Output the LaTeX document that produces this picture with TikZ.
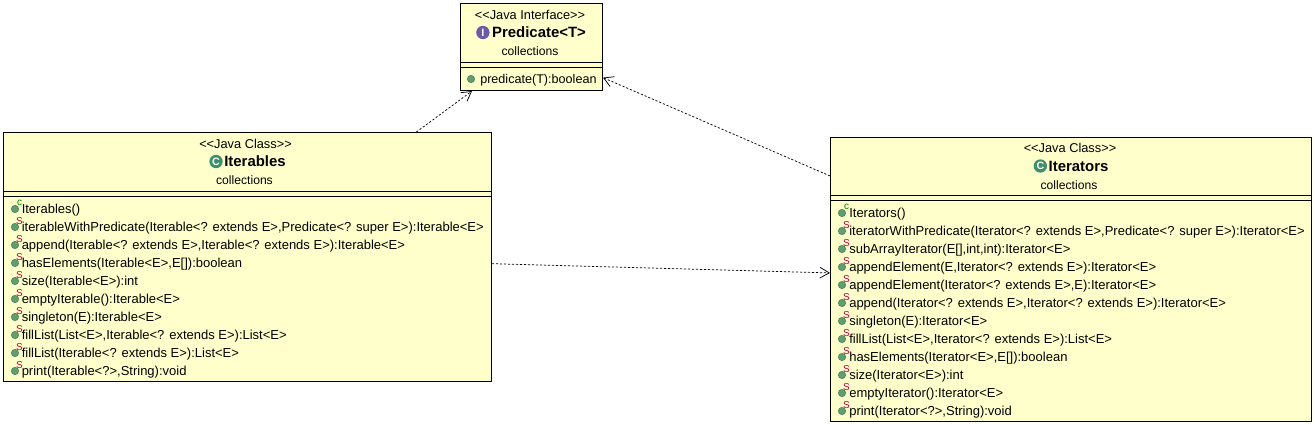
\documentclass[tikz,border=0pt]{standalone}
\usepackage{fontspec}
\setmainfont{Liberation Sans}
\usepackage{xcolor}
\usetikzlibrary{arrows.meta,positioning}
\definecolor{notefill}{HTML}{FFFFCC}
\definecolor{pubgreen}{HTML}{5F9E6E}
\definecolor{classgreen}{HTML}{3F8F68}
\definecolor{ifacepurple}{HTML}{6A5AA8}
\definecolor{modred}{HTML}{C00040}
\tikzstyle{classbox} = [rectangle, draw=black, fill=notefill, line width=0.75pt, inner sep=0pt]
\tikzstyle{stereo} = [font=\fontsize{9.6}{10}\selectfont, inner sep=0pt]
\tikzstyle{package} = [font=\fontsize{9.1}{10}\selectfont, inner sep=0pt]
\tikzstyle{classname} = [font=\fontsize{11.2}{12}\selectfont\bfseries, inner sep=0pt]
\tikzstyle{member} = [font=\fontsize{9.75}{10}\selectfont, inner sep=0pt, anchor=base west]
\tikzstyle{bullet} = [circle, fill=pubgreen, draw=pubgreen!70!black, line width=0.3pt, minimum size=5.6pt, inner sep=0pt]
\tikzstyle{modifier} = [font=\fontsize{7.5}{8}\selectfont, inner sep=0pt]
\tikzstyle{badge} = [circle, text=white, font=\fontsize{8}{8}\selectfont\bfseries, minimum size=10pt, inner sep=0pt]
\tikzstyle{line} = [draw, line width=0.55pt, dash pattern=on 1.6pt off 1.4pt, -{Straight Barb[length=7pt,width=8pt]}]

\begin{document}
\begin{tikzpicture}[x=0.75pt,y=-0.75pt]
  \useasboundingbox (0,0) rectangle (1315,425);

  \node [classbox, minimum width=106.5pt, minimum height=65.25pt] (predicate) at (531.5,47) {};
  \node [classbox, minimum width=366pt, minimum height=186.75pt] (iterables) at (247.5,257) {};
  \node [classbox, minimum width=360.75pt, minimum height=213pt] (iterators) at (1071,279.5) {};

  % compartments
  \draw [line width=0.75pt] (predicate.west |- 0,62.5) -- (predicate.east |- 0,62.5);
  \draw [line width=0.75pt] (predicate.west |- 0,67.5) -- (predicate.east |- 0,67.5);
  \draw [line width=0.75pt] (iterables.west |- 0,191.5) -- (iterables.east |- 0,191.5);
  \draw [line width=0.75pt] (iterables.west |- 0,196.5) -- (iterables.east |- 0,196.5);
  \draw [line width=0.75pt] (iterators.west |- 0,195.5) -- (iterators.east |- 0,195.5);
  \draw [line width=0.75pt] (iterators.west |- 0,200.5) -- (iterators.east |- 0,200.5);

  % headers
  \node [stereo] (predicate-kind) at (530,15) {<{}<Java Interface>{}>};
  \node [classname] (predicate-name) at (539,32.5) {Predicate<T>};
  \node [badge, fill=ifacepurple, left=1.5pt of predicate-name] (predicate-badge) {I};
  \node [package] (predicate-pkg) at (530,51.5) {collections};

  \node [stereo] (iterables-kind) at (245.5,143.5) {<{}<Java Class>{}>};
  \node [classname] (iterables-name) at (255,161.5) {Iterables};
  \node [badge, fill=classgreen, left=0.8pt of iterables-name] (iterables-badge) {C};
  \node [package] (iterables-pkg) at (244.5,180.5) {collections};

  \node [stereo] (iterators-kind) at (1070,148) {<{}<Java Class>{}>};
  \node [classname] (iterators-name) at (1078.5,166) {Iterators};
  \node [badge, fill=classgreen, left=0.8pt of iterators-name] (iterators-badge) {C};
  \node [package] (iterators-pkg) at (1069,185) {collections};

  % members
  \node [bullet] (predicate-dot) at (471,79) {};
  \node [member, font=\fontsize{9.45}{10}\selectfont] (predicate-row) at (480,83.5) {predicate(T):boolean};

  \foreach \row/\mark/\txt in {
    208/c/{Iterables()},
    226/S/{iterableWithPredicate(Iterable<? extends E>,Predicate<? super E>):Iterable<E>},
    244/S/{append(Iterable<? extends E>,Iterable<? extends E>):Iterable<E>},
    262/S/{hasElements(Iterable<E>,E[]):boolean},
    280/S/{size(Iterable<E>):int},
    298/S/{emptyIterable():Iterable<E>},
    316/S/{singleton(E):Iterable<E>},
    334/S/{fillList(List<E>,Iterable<? extends E>):List<E>},
    352/S/{fillList(Iterable<? extends E>):List<E>},
    370/S/{print(Iterable<?>,String):void}}{
      \node [bullet] (iterables-dot-\row) at (15,\row+1) {};
      \node [modifier, text=\if\mark c green!50!black\else modred\fi] (iterables-mark-\row) at (19.5,\row-5) {\mark};
      \node [member] (iterables-row-\row) at (21.5,\row+5) {\txt};
  }

  \foreach \row/\mark/\txt in {
    212/c/{Iterators()},
    230/S/{iteratorWithPredicate(Iterator<? extends E>,Predicate<? super E>):Iterator<E>},
    248/S/{subArrayIterator(E[],int,int):Iterator<E>},
    266/S/{appendElement(E,Iterator<? extends E>):Iterator<E>},
    284/S/{appendElement(Iterator<? extends E>,E):Iterator<E>},
    302/S/{append(Iterator<? extends E>,Iterator<? extends E>):Iterator<E>},
    320/S/{singleton(E):Iterator<E>},
    338/S/{fillList(List<E>,Iterator<? extends E>):List<E>},
    356/S/{hasElements(Iterator<E>,E[]):boolean},
    374/S/{size(Iterator<E>):int},
    392/S/{emptyIterator():Iterator<E>},
    410/S/{print(Iterator<?>,String):void}}{
      \node [bullet] (iterators-dot-\row) at (842,\row+1) {};
      \node [modifier, text=\if\mark c green!50!black\else modred\fi] (iterators-mark-\row) at (846.5,\row-5) {\mark};
      \node [member] (iterators-row-\row) at (849,\row+5) {\txt};
  }

  \path [line] (iterables) -- (predicate);
  \path [line] (iterators) -- (predicate);
  \path [line] (iterables) -- (iterators);
\end{tikzpicture}
\end{document}
